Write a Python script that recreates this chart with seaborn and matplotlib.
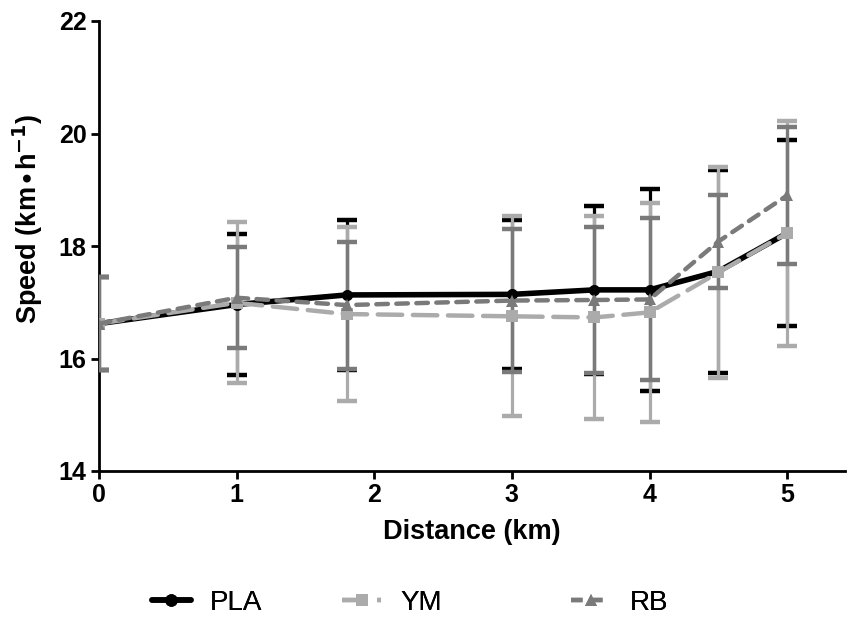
import numpy as np
import pandas as pd
import matplotlib
matplotlib.use("Agg")
import matplotlib.pyplot as plt
import seaborn as sns
from matplotlib.lines import Line2D

sns.set_theme(style="ticks")
plt.rcParams['font.family'] = ['Liberation Sans', 'DejaVu Sans']
plt.rcParams.update({"text.color": "black", "axes.labelcolor": "black",
                     "xtick.color": "black", "ytick.color": "black"})

distance = [0, 1, 1.8, 3, 3.6, 4, 4.5, 5]
pla_mean = [16.62, 16.96, 17.13, 17.14, 17.22, 17.22, 17.55, 18.23]
pla_sd   = [0.83, 1.26, 1.34, 1.33, 1.50, 1.80, 1.80, 1.66]
ym_mean  = [16.62, 16.99, 16.79, 16.75, 16.73, 16.82, 17.53, 18.23]
ym_sd    = [0.83, 1.43, 1.54, 1.78, 1.81, 1.94, 1.87, 2.00]
rb_mean  = [16.62, 17.08, 16.95, 17.03, 17.04, 17.05, 18.08, 18.90]
rb_sd    = [0.83, 0.90, 1.13, 1.27, 1.29, 1.44, 0.83, 1.22]

groups = ["PLA", "YM", "RB"]
colors = {"PLA": "#000000", "YM": "#ababab", "RB": "#7a7a7a"}
dashes = {"PLA": "", "YM": (5.5, 2.4), "RB": (2.6, 1.9)}
markers = {"PLA": "o", "YM": "s", "RB": "^"}
widths = {"PLA": 4.0, "YM": 3.2, "RB": 3.2}

means = {"PLA": pla_mean, "YM": ym_mean, "RB": rb_mean}
sds = {"PLA": pla_sd, "YM": ym_sd, "RB": rb_sd}

df = pd.concat([pd.DataFrame({"Distance": distance, "Speed": means[g],
                              "SD": sds[g], "Group": g}) for g in groups],
               ignore_index=True)

fig = plt.figure(figsize=(8.49, 6.28), dpi=100)
ax = fig.add_axes([99/849, 1-471/628, (845-99)/849, (471-21)/628])

# error bars
for i, g in enumerate(groups):
    sub = df[df.Group == g]
    ax.errorbar(sub.Distance, sub.Speed, yerr=sub.SD, fmt="none",
                ecolor=colors[g], elinewidth=2.3, capsize=7.5, capthick=3.2,
                zorder=2 + i)

for i, g in enumerate(groups):
    sub = df[df.Group == g]
    sns.lineplot(data=sub, x="Distance", y="Speed", color=colors[g],
                 marker=markers[g], markersize=8, markeredgewidth=0,
                 dashes=False, linewidth=widths[g], ax=ax, legend=False,
                 zorder=6 + i, errorbar=None)
    ln = ax.lines[-1]
    if dashes[g]:
        ln.set_dashes(dashes[g])
    ln.set_dash_capstyle("round")

ax.set_xlim(0, 5.42)
ax.set_ylim(14, 22)
ax.set_xticks([0, 1, 2, 3, 4, 5])
ax.set_yticks([14, 16, 18, 20, 22])
sns.despine(ax=ax)
for s in ["left", "bottom"]:
    ax.spines[s].set_linewidth(2.0)
    ax.spines[s].set_color("black")
ax.tick_params(axis="both", direction="out", length=6, width=2, color="black",
               labelcolor="black", labelsize=18, pad=3)
for lab in ax.get_xticklabels() + ax.get_yticklabels():
    lab.set_fontweight("bold")
ax.set_xlabel("Distance (km)", fontsize=19.5, fontweight="bold", labelpad=8)
ax.set_ylabel(r"Speed (km$\bullet$h$^{\mathbf{-1}}$)", fontsize=19.5, fontweight="bold")
ax.yaxis.set_label_coords(-0.072, 0.56)
ax.grid(False)

# legend entries placed individually
pos = {"PLA": 0.244, "YM": 0.462, "RB": 0.730}
for g in groups:
    h = Line2D([], [], color=colors[g], linewidth=widths[g],
               marker=markers[g], markersize=9, markeredgewidth=0)
    if dashes[g]:
        h.set_dashes(dashes[g])
    leg = fig.legend([h], [g], loc="center", bbox_to_anchor=(pos[g], 1-603/628),
                     frameon=False, fontsize=20, handlelength=1.4, handletextpad=0.7)
    fig.add_artist(leg)

fig.savefig("out.png", dpi=100)
